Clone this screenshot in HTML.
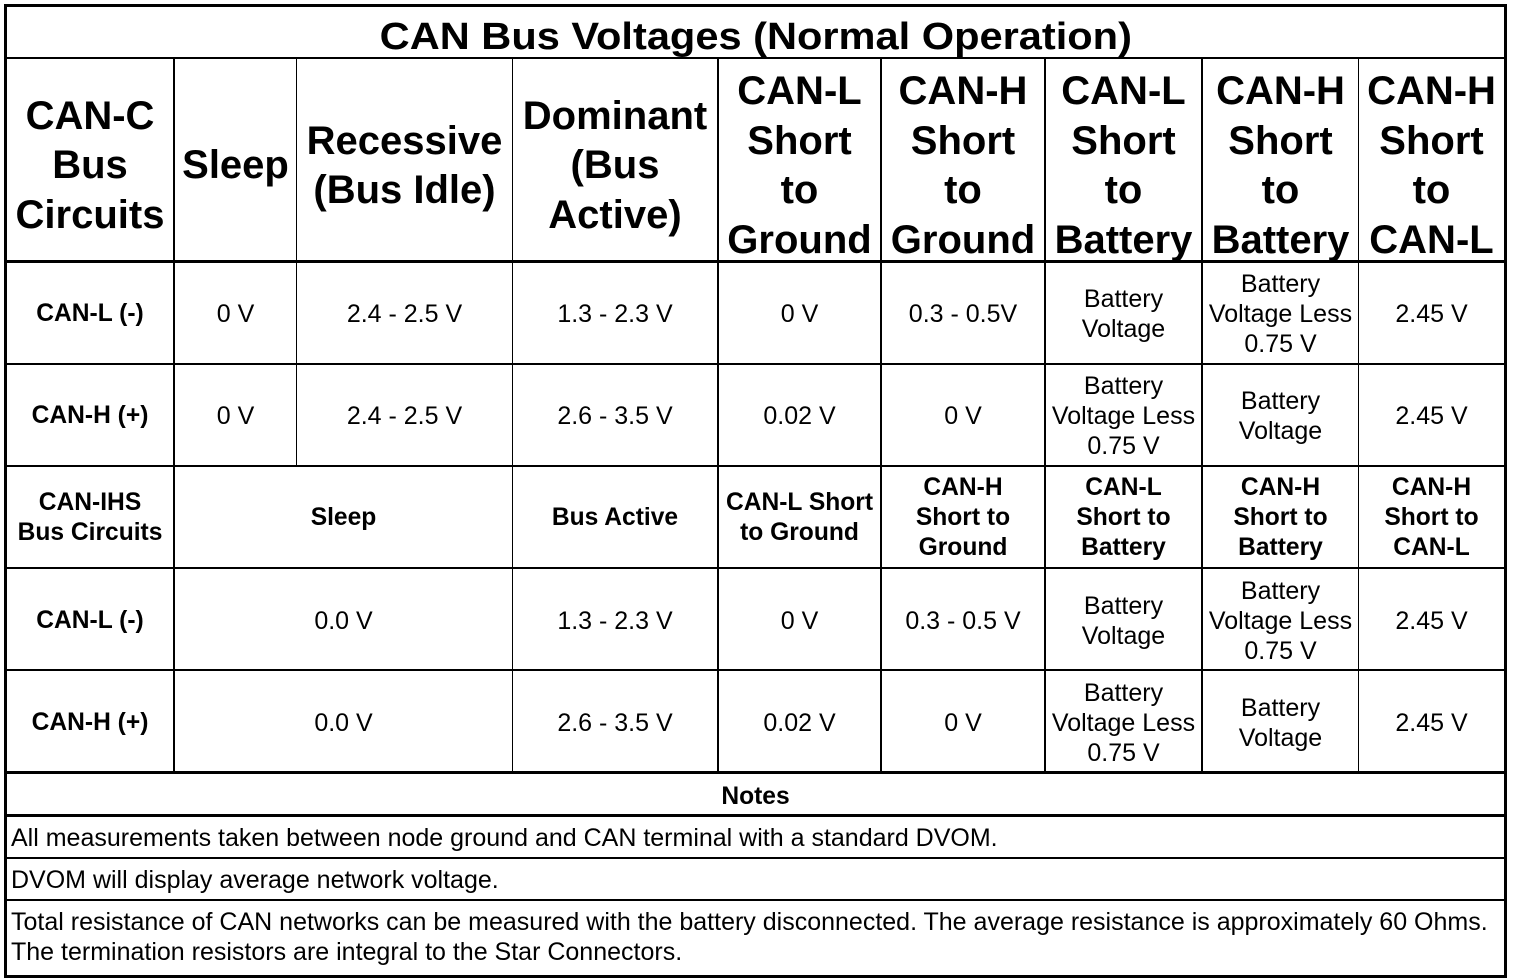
<!DOCTYPE html>
<html>
<head>
<meta charset="utf-8">
<style>
  html, body { margin:0; padding:0; background:#fff; }
  body { width:1520px; height:980px; position:relative; overflow:hidden;
         font-family:"Liberation Sans", Arial, Helvetica, sans-serif; color:#000; }
  .ln { position:absolute; background:#000; }
  .c { position:absolute; display:flex; align-items:center; justify-content:center;
       text-align:center; white-space:nowrap; }
  .h { font-weight:bold; font-size:40px; line-height:49.5px; top:60px; height:212px; }
  .b { font-size:25px; line-height:30px; }
  .bb { font-size:24.6px; line-height:30px; font-weight:bold; }
  .k0{left:7px;width:166px}
  .k1{left:175px;width:121px}
  .k2{left:297px;width:215px}
  .k3{left:513px;width:204px}
  .k4{left:719px;width:161px}
  .k5{left:882px;width:162px}
  .k6{left:1046px;width:155px}
  .k7{left:1203px;width:155px}
  .k8{left:1359px;width:145px}
  .k12{left:175px;width:337px}
  .r1{top:264px;height:100px}
  .r2{top:366px;height:100px}
  .r3{top:468px;height:100px}
  .r4{top:571px;height:100px}
  .r5{top:673px;height:100px}
  .title { position:absolute; left:7px; width:1497px; top:18px; text-align:center;
           font-weight:bold; font-size:38px; line-height:38px; white-space:nowrap; }
  .title span { display:inline-block; transform:scaleX(1.094); transform-origin:center; }
  .note { position:absolute; left:11px; font-size:25px; line-height:30px; white-space:nowrap; }
</style>
</head>
<body>

<!-- outer border -->
<div class="ln" style="left:4px;top:4px;width:1503px;height:3px"></div>
<div class="ln" style="left:4px;top:975px;width:1503px;height:3px"></div>
<div class="ln" style="left:4px;top:4px;width:3px;height:974px"></div>
<div class="ln" style="left:1504px;top:4px;width:3px;height:974px"></div>

<!-- horizontal lines -->
<div class="ln" style="left:4px;top:57px;width:1503px;height:2px"></div>
<div class="ln" style="left:4px;top:260px;width:1503px;height:3px"></div>
<div class="ln" style="left:4px;top:363px;width:1503px;height:2px"></div>
<div class="ln" style="left:4px;top:465px;width:1503px;height:2px"></div>
<div class="ln" style="left:4px;top:567px;width:1503px;height:2px"></div>
<div class="ln" style="left:4px;top:669px;width:1503px;height:2px"></div>
<div class="ln" style="left:4px;top:771px;width:1503px;height:3px"></div>
<div class="ln" style="left:4px;top:814px;width:1503px;height:3px"></div>
<div class="ln" style="left:4px;top:857px;width:1503px;height:2px"></div>
<div class="ln" style="left:4px;top:899px;width:1503px;height:2px"></div>

<!-- vertical lines -->
<div class="ln" style="left:173px;top:58px;width:2px;height:715px"></div>
<div class="ln" style="left:296px;top:58px;width:1px;height:409px"></div>
<div class="ln" style="left:512px;top:58px;width:1px;height:715px"></div>
<div class="ln" style="left:717px;top:58px;width:2px;height:715px"></div>
<div class="ln" style="left:880px;top:58px;width:2px;height:715px"></div>
<div class="ln" style="left:1044px;top:58px;width:2px;height:715px"></div>
<div class="ln" style="left:1201px;top:58px;width:2px;height:715px"></div>
<div class="ln" style="left:1358px;top:58px;width:1px;height:715px"></div>

<!-- title -->
<div class="title"><span>CAN Bus Voltages (Normal Operation)</span></div>

<!-- header -->
<div class="c h k0">CAN-C<br>Bus<br>Circuits</div>
<div class="c h k1">Sleep</div>
<div class="c h k2">Recessive<br>(Bus Idle)</div>
<div class="c h k3">Dominant<br>(Bus<br>Active)</div>
<div class="c h k4">CAN-L<br>Short<br>to<br>Ground</div>
<div class="c h k5">CAN-H<br>Short<br>to<br>Ground</div>
<div class="c h k6">CAN-L<br>Short<br>to<br>Battery</div>
<div class="c h k7">CAN-H<br>Short<br>to<br>Battery</div>
<div class="c h k8">CAN-H<br>Short<br>to<br>CAN-L</div>

<!-- row 1 -->
<div class="c bb k0 r1">CAN-L (-)</div>
<div class="c b k1 r1">0 V</div>
<div class="c b k2 r1">2.4 - 2.5 V</div>
<div class="c b k3 r1">1.3 - 2.3 V</div>
<div class="c b k4 r1">0 V</div>
<div class="c b k5 r1">0.3 - 0.5V</div>
<div class="c b k6 r1">Battery<br>Voltage</div>
<div class="c b k7 r1">Battery<br>Voltage Less<br>0.75 V</div>
<div class="c b k8 r1">2.45 V</div>

<!-- row 2 -->
<div class="c bb k0 r2">CAN-H (+)</div>
<div class="c b k1 r2">0 V</div>
<div class="c b k2 r2">2.4 - 2.5 V</div>
<div class="c b k3 r2">2.6 - 3.5 V</div>
<div class="c b k4 r2">0.02 V</div>
<div class="c b k5 r2">0 V</div>
<div class="c b k6 r2">Battery<br>Voltage Less<br>0.75 V</div>
<div class="c b k7 r2">Battery<br>Voltage</div>
<div class="c b k8 r2">2.45 V</div>

<!-- row 3 -->
<div class="c bb k0 r3">CAN-IHS<br>Bus Circuits</div>
<div class="c bb k12 r3">Sleep</div>
<div class="c bb k3 r3">Bus Active</div>
<div class="c bb k4 r3">CAN-L Short<br>to Ground</div>
<div class="c bb k5 r3">CAN-H<br>Short to<br>Ground</div>
<div class="c bb k6 r3">CAN-L<br>Short to<br>Battery</div>
<div class="c bb k7 r3">CAN-H<br>Short to<br>Battery</div>
<div class="c bb k8 r3">CAN-H<br>Short to<br>CAN-L</div>

<!-- row 4 -->
<div class="c bb k0 r4">CAN-L (-)</div>
<div class="c b k12 r4">0.0 V</div>
<div class="c b k3 r4">1.3 - 2.3 V</div>
<div class="c b k4 r4">0 V</div>
<div class="c b k5 r4">0.3 - 0.5 V</div>
<div class="c b k6 r4">Battery<br>Voltage</div>
<div class="c b k7 r4">Battery<br>Voltage Less<br>0.75 V</div>
<div class="c b k8 r4">2.45 V</div>

<!-- row 5 -->
<div class="c bb k0 r5">CAN-H (+)</div>
<div class="c b k12 r5">0.0 V</div>
<div class="c b k3 r5">2.6 - 3.5 V</div>
<div class="c b k4 r5">0.02 V</div>
<div class="c b k5 r5">0 V</div>
<div class="c b k6 r5">Battery<br>Voltage Less<br>0.75 V</div>
<div class="c b k7 r5">Battery<br>Voltage</div>
<div class="c b k8 r5">2.45 V</div>

<!-- notes -->
<div class="c bb" style="left:7px;width:1497px;top:777px;height:40px">Notes</div>
<div class="note" style="top:823px">All measurements taken between node ground and CAN terminal with a standard DVOM.</div>
<div class="note" style="top:865px">DVOM will display average network voltage.</div>
<div class="note" style="top:907px">Total resistance of CAN networks can be measured with the battery disconnected. The average resistance is approximately 60 Ohms.<br>The termination resistors are integral to the Star Connectors.</div>

</body>
</html>
